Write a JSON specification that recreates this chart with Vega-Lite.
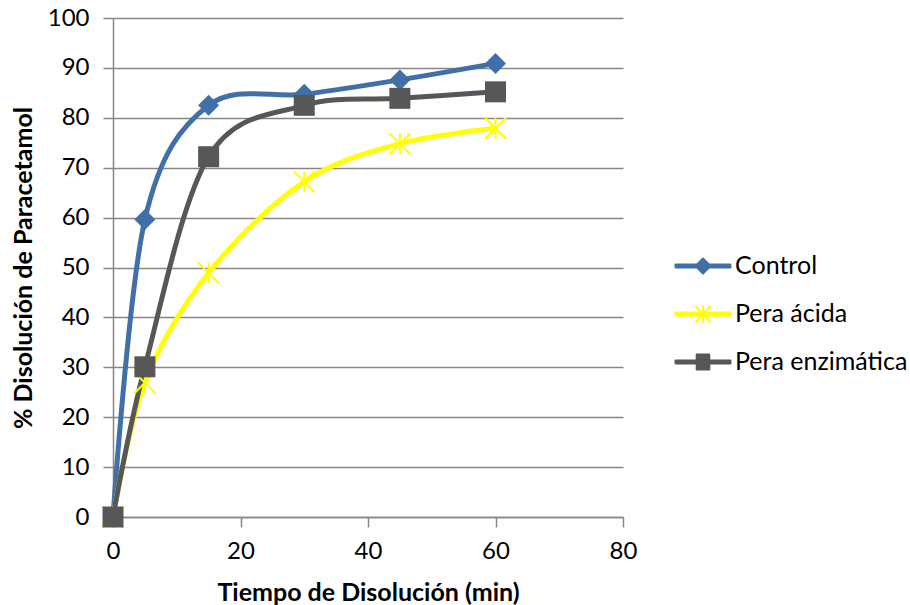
{
  "$schema": "https://vega.github.io/schema/vega-lite/v6.json",
  "width": 510,
  "height": 499,
  "autosize": {"type": "none"},
  "padding": {"left": 113, "top": 18, "right": 287, "bottom": 88},
  "background": "white",
  "config": {
    "view": {"stroke": null},
    "font": "Lato",
    "axis": {
      "labelFont": "Lato",
      "titleFont": "Lato",
      "labelColor": "#000000",
      "titleColor": "#000000",
      "domainColor": "#868686",
      "tickColor": "#868686",
      "gridColor": "#868686",
      "domainWidth": 1.5,
      "tickWidth": 1.5,
      "gridWidth": 1.5
    }
  },
  "data": {
    "values": [
      {"series": "Control", "t": 0, "pct": 0},
      {"series": "Control", "t": 5, "pct": 59.6},
      {"series": "Control", "t": 15, "pct": 82.5},
      {"series": "Control", "t": 30, "pct": 84.7},
      {"series": "Control", "t": 45, "pct": 87.6},
      {"series": "Control", "t": 60, "pct": 90.9},
      {"series": "Pera ácida", "t": 0, "pct": 0},
      {"series": "Pera ácida", "t": 5, "pct": 26.9},
      {"series": "Pera ácida", "t": 15, "pct": 48.9},
      {"series": "Pera ácida", "t": 30, "pct": 67.2},
      {"series": "Pera ácida", "t": 45, "pct": 74.8},
      {"series": "Pera ácida", "t": 60, "pct": 77.9},
      {"series": "Pera enzimática", "t": 0, "pct": 0},
      {"series": "Pera enzimática", "t": 5, "pct": 30.1},
      {"series": "Pera enzimática", "t": 15, "pct": 72.2},
      {"series": "Pera enzimática", "t": 30, "pct": 82.5},
      {"series": "Pera enzimática", "t": 45, "pct": 83.9},
      {"series": "Pera enzimática", "t": 60, "pct": 85.2}
    ]
  },
  "encoding": {
    "x": {
      "field": "t",
      "type": "quantitative",
      "scale": {"domain": [0, 80], "nice": false},
      "axis": {
        "title": "Tiempo de Disolución (min)",
        "values": [0, 20, 40, 60, 80],
        "grid": false,
        "tickSize": 10,
        "labelFlush": false,
        "labelFontSize": 24,
        "labelPadding": 12,
        "titleFontSize": 25,
        "titleFontWeight": "bold",
        "titlePadding": 17
      }
    },
    "y": {
      "field": "pct",
      "type": "quantitative",
      "scale": {"domain": [0, 100], "nice": false},
      "axis": {
        "title": "% Disolución de Paracetamol",
        "values": [0, 10, 20, 30, 40, 50, 60, 70, 80, 90, 100],
        "grid": true,
        "tickSize": 10,
        "labelFlush": false,
        "labelFontSize": 24,
        "labelPadding": 14,
        "titleFontSize": 25,
        "titleFontWeight": "bold",
        "titlePadding": 11
      }
    },
    "color": {
      "field": "series",
      "type": "nominal",
      "scale": {
        "domain": ["Control", "Pera ácida", "Pera enzimática"],
        "range": ["#4170A8", "#FFFF00", "#575757"]
      },
      "legend": {
        "title": null,
        "orient": "none",
        "legendX": 574,
        "legendY": 232,
        "symbolSize": 900,
        "symbolType": "square",
        "labelFontSize": 25,
        "labelFont": "Lato",
        "labelColor": "#000000",
        "labelLimit": 400,
        "labelOffset": 16,
        "rowPadding": 19,
        "encode": {
          "symbols": {
            "update": {
              "shape": {"signal": "datum.value === 'Control' ? 'M-1.83,-0.1H1.83V0.1H-1.83ZM-0.5,0L0,-0.5L0.5,0L0,0.5Z' : datum.value === 'Pera ácida' ? 'M-1.83,-0.1H1.83V0.1H-1.83ZM-0.5,-0.55L0.5,0.55M-0.5,0.55L0.5,-0.55M0,-0.6V0.6' : 'M-1.83,-0.1H1.83V0.1H-1.83ZM-0.42,-0.5H0.42V0.5H-0.42Z'"},
              "fill": {"signal": "scale('color', datum.value)"},
              "stroke": {"signal": "scale('color', datum.value)"},
              "strokeWidth": {"value": 2},
              "strokeJoin": {"value": "round"},
              "opacity": {"value": 1},
              "fillOpacity": {"value": 1}
            }
          }
        }
      }
    }
  },
  "layer": [
    {
      "mark": {"type": "line", "interpolate": "cardinal", "tension": 0, "strokeWidth": 5},
      "encoding": {}
    },
    {
      "transform": [{"filter": "datum.series === 'Control'"}],
      "mark": {"type": "point", "shape": "diamond", "filled": true, "opacity": 1, "size": 441},
      "encoding": {"color": {"value": "#4170A8"}}
    },
    {
      "transform": [{"filter": "datum.series === 'Pera ácida'"}],
      "mark": {"type": "point", "shape": "M-1,-1L1,1M-1,1L1,-1M0,-1V1", "filled": false, "opacity": 1, "size": 441, "strokeWidth": 2},
      "encoding": {"color": {"value": "#FFFF00"}}
    },
    {
      "transform": [{"filter": "datum.series === 'Pera enzimática'"}],
      "mark": {"type": "point", "shape": "square", "filled": true, "opacity": 1, "size": 441},
      "encoding": {"color": {"value": "#575757"}}
    }
  ]
}
